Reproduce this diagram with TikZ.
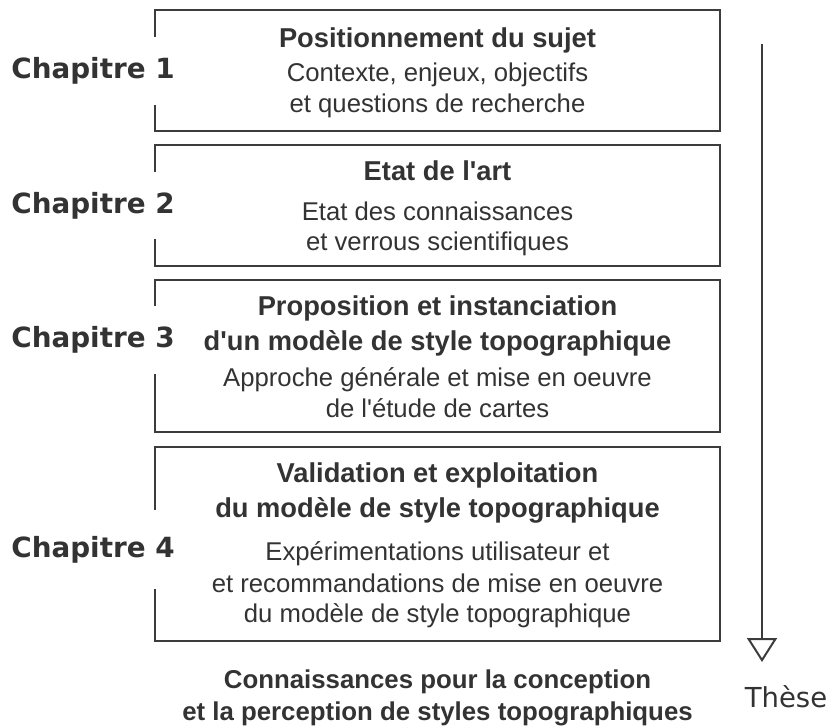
\documentclass[tikz,border=0pt]{standalone}
\usepackage{fontspec}
\setmainfont{Liberation Sans}[Ligatures=TeXOff]
\newfontfamily\dvfont{DejaVu Sans}
\usetikzlibrary{arrows.meta}
\definecolor{ink}{HTML}{333333}
\definecolor{edge}{HTML}{3C3C3C}
\tikzset{
  chbox/.style={draw=edge, line width=2pt, fill=white, inner sep=0pt},
  ttl/.style={anchor=base, inner sep=0pt, text=ink, font=\fontsize{27.3}{32}\selectfont\bfseries},
  bdy/.style={anchor=base, inner sep=0pt, text=ink, font=\fontsize{25.7}{30}\selectfont},
  chlab/.style={fill=white, inner xsep=4pt, inner ysep=0pt, text=ink, font=\dvfont\fontsize{27.8}{32}\selectfont\bfseries, minimum width=180pt},
  flow/.style={draw=edge, line width=2pt, -{Triangle[open, length=24pt, width=30pt, line width=2pt]}},
}
\begin{document}
\begin{tikzpicture}[x=1pt, y=-1pt]
\useasboundingbox (0,0) rectangle (826,727);
% boxes
\node[chbox, minimum width=565pt, minimum height=121pt] (b1) at (437.5,70.5) {};
\node[chbox, minimum width=565pt, minimum height=121pt] (b2) at (437.5,205.5) {};
\node[chbox, minimum width=565pt, minimum height=152pt] (b3) at (437.5,356) {};
\node[chbox, minimum width=565pt, minimum height=194pt] (b4) at (437.5,544) {};
% chapter labels (mask the left border)
\node[chlab, minimum height=68pt] (c1) at (93,71) {Chapitre 1};
\node[chlab, minimum height=67pt] (c2) at (93,205.5) {Chapitre 2};
\node[chlab, minimum height=68pt] (c3) at (93,340) {Chapitre 3};
\node[chlab, minimum height=79pt] (c4) at (93,549.5) {Chapitre 4};
% box 1
\node[ttl] (t1a) at (437.5,48) {Positionnement du sujet};
\node[bdy] (t1b) at (437.5,82) {Contexte, enjeux, objectifs};
\node[bdy] (t1c) at (437.5,113) {et questions de recherche};
% box 2
\node[ttl] (t2a) at (437.5,181) {Etat de l'art};
\node[bdy] (t2b) at (437.5,221) {Etat des connaissances};
\node[bdy] (t2c) at (437.5,251) {et verrous scientifiques};
% box 3
\node[ttl] (t3a) at (437.5,315) {Proposition et instanciation};
\node[ttl] (t3b) at (437.5,350) {d'un modèle de style topographique};
\node[bdy] (t3c) at (437.5,386) {Approche générale et mise en oeuvre};
\node[bdy] (t3d) at (437.5,417) {de l'étude de cartes};
% box 4
\node[ttl] (t4a) at (437.5,482) {Validation et exploitation};
\node[ttl] (t4b) at (437.5,517) {du modèle de style topographique};
\node[bdy] (t4c) at (437.5,560) {Expérimentations utilisateur et};
\node[bdy] (t4d) at (437.5,592) {et recommandations de mise en oeuvre};
\node[bdy] (t4e) at (437.5,622) {du modèle de style topographique};
% bottom
\node[ttl, font=\fontsize{25.8}{30}\selectfont\bfseries] (k1) at (437.5,688) {Connaissances pour la conception};
\node[ttl, font=\fontsize{25.8}{30}\selectfont\bfseries] (k2) at (437.5,720) {et la perception de styles topographiques};
% arrow
\coordinate (aS) at (762,44);
\coordinate (aE) at (762,662);
\draw[flow] (aS) -- (aE);
\node[anchor=base, inner sep=0pt, text=ink, font=\dvfont\fontsize{27.5}{32}\selectfont] (th) at (786,707) {Thèse};
\end{tikzpicture}
\end{document}
